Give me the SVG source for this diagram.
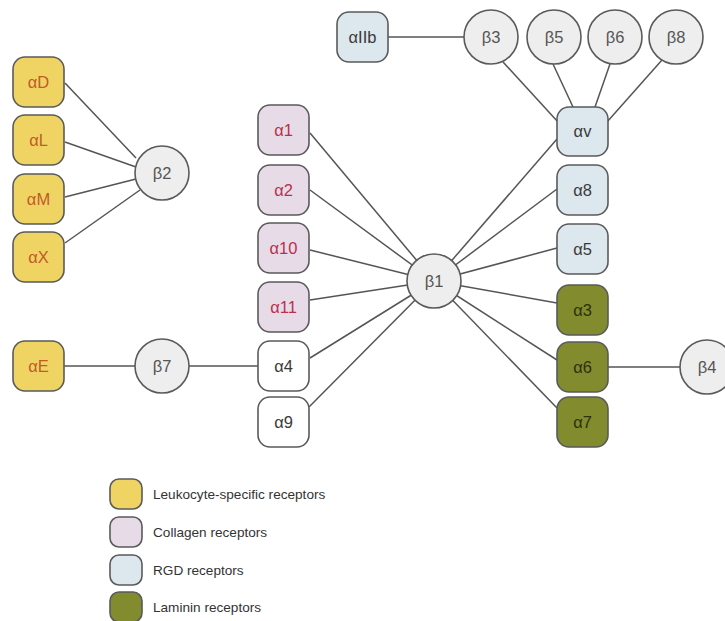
<svg xmlns="http://www.w3.org/2000/svg" width="725" height="621" viewBox="0 0 725 621">
<style>
.bg{fill:#ffffff}
.c line{stroke:#555;stroke-width:1.5;fill:none}
.box{stroke:#5a5a5a;stroke-width:1.6}
.circ{fill:#eeeeee;stroke:#5a5a5a;stroke-width:1.6}
.leu{fill:#efd464}
.col{fill:#e8dbe8}
.rgd{fill:#dde7ee}
.lam{fill:#828b2e}
.wht{fill:#ffffff}
text{font-family:"Liberation Sans",Arial,sans-serif;font-size:16.5px;text-anchor:middle;dominant-baseline:central}
.tl{fill:#c25a28}
.tc{fill:#b8304c}
.tr{fill:#3a3a3a}
.tm{fill:#2e3010}
.tw{fill:#3a3a3a}
.tb{fill:#555555}
.lg{font-size:13.6px;text-anchor:start;fill:#333}
</style>
<rect class="bg" width="725" height="621"/>
<g id="connectors" class="c">
<line x1="65" y1="83" x2="136" y2="158"/>
<line x1="65" y1="142" x2="136" y2="167"/>
<line x1="65" y1="197" x2="136" y2="179"/>
<line x1="65" y1="243" x2="140" y2="190"/>
<line x1="64" y1="366" x2="135" y2="366"/>
<line x1="189" y1="366" x2="258" y2="366"/>
<line x1="388" y1="37" x2="464" y2="37"/>
<line x1="503" y1="62" x2="558" y2="122"/>
<line x1="553" y1="64" x2="573" y2="107"/>
<line x1="610" y1="64" x2="595" y2="107"/>
<line x1="662" y1="60" x2="607" y2="122"/>
<line x1="607" y1="367" x2="680" y2="367"/>
<line x1="310" y1="133" x2="434" y2="281"/>
<line x1="310" y1="190" x2="434" y2="281"/>
<line x1="310" y1="250" x2="434" y2="281"/>
<line x1="310" y1="300" x2="434" y2="281"/>
<line x1="310" y1="358" x2="434" y2="281"/>
<line x1="309" y1="407" x2="434" y2="281"/>
<line x1="557" y1="139" x2="434" y2="281"/>
<line x1="557" y1="189" x2="434" y2="281"/>
<line x1="557" y1="248" x2="434" y2="281"/>
<line x1="557" y1="303" x2="434" y2="281"/>
<line x1="557" y1="360" x2="434" y2="281"/>
<line x1="557" y1="408" x2="434" y2="281"/>
</g>
<g id="aD"><rect class="box leu" x="13" y="57" width="51" height="50" rx="12"/><text class="tl" x="38.5" y="82">αD</text></g>
<g id="aL"><rect class="box leu" x="13" y="115" width="51" height="50" rx="12"/><text class="tl" x="38.5" y="140">αL</text></g>
<g id="aM"><rect class="box leu" x="13" y="174" width="51" height="50" rx="12"/><text class="tl" x="38.5" y="199">αM</text></g>
<g id="aX"><rect class="box leu" x="13" y="232" width="51" height="50" rx="12"/><text class="tl" x="38.5" y="257">αX</text></g>
<g id="aE"><rect class="box leu" x="13" y="341" width="51" height="50" rx="12"/><text class="tl" x="38.5" y="366">αE</text></g>
<g id="b2"><circle class="circ" cx="162" cy="173" r="27"/><text class="tb" x="162" y="173">β2</text></g>
<g id="b7"><circle class="circ" cx="162" cy="366" r="27"/><text class="tb" x="162" y="366">β7</text></g>
<g id="a1"><rect class="box col" x="258" y="105" width="51" height="50" rx="12"/><text class="tc" x="283.5" y="130">α1</text></g>
<g id="a2"><rect class="box col" x="258" y="165" width="51" height="50" rx="12"/><text class="tc" x="283.5" y="190">α2</text></g>
<g id="a10"><rect class="box col" x="258" y="223" width="51" height="50" rx="12"/><text class="tc" x="283.5" y="248">α10</text></g>
<g id="a11"><rect class="box col" x="258" y="282" width="51" height="50" rx="12"/><text class="tc" x="283.5" y="307">α11</text></g>
<g id="a4"><rect class="box wht" x="258" y="341" width="51" height="50" rx="12"/><text class="tw" x="283.5" y="366">α4</text></g>
<g id="a9"><rect class="box wht" x="258" y="397" width="51" height="50" rx="12"/><text class="tw" x="283.5" y="422">α9</text></g>
<g id="b1"><circle class="circ" cx="434" cy="281" r="27"/><text class="tb" x="434" y="281">β1</text></g>
<g id="aIIb"><rect class="box rgd" x="337" y="12" width="51" height="50" rx="12"/><text class="tr" x="362.5" y="37">αIIb</text></g>
<g id="b3"><circle class="circ" cx="491" cy="37" r="27"/><text class="tb" x="491" y="37">β3</text></g>
<g id="b5"><circle class="circ" cx="554" cy="37" r="27"/><text class="tb" x="554" y="37">β5</text></g>
<g id="b6"><circle class="circ" cx="615" cy="37" r="27"/><text class="tb" x="615" y="37">β6</text></g>
<g id="b8"><circle class="circ" cx="676" cy="37" r="27"/><text class="tb" x="676" y="37">β8</text></g>
<g id="av"><rect class="box rgd" x="557" y="107" width="51" height="49" rx="12"/><text class="tr" x="582.5" y="131">αv</text></g>
<g id="a8"><rect class="box rgd" x="557" y="165" width="51" height="50" rx="12"/><text class="tr" x="582.5" y="190">α8</text></g>
<g id="a5"><rect class="box rgd" x="557" y="224" width="51" height="50" rx="12"/><text class="tr" x="582.5" y="249">α5</text></g>
<g id="a3"><rect class="box lam" x="557" y="285" width="51" height="50" rx="12"/><text class="tm" x="582.5" y="310">α3</text></g>
<g id="a6"><rect class="box lam" x="557" y="342" width="51" height="50" rx="12"/><text class="tm" x="582.5" y="367">α6</text></g>
<g id="a7"><rect class="box lam" x="557" y="397" width="51" height="50" rx="12"/><text class="tm" x="582.5" y="422">α7</text></g>
<g id="b4"><circle class="circ" cx="707" cy="367" r="27"/><text class="tb" x="707" y="367">β4</text></g>
<g id="legend">
<rect class="box leu" x="110" y="479" width="32" height="30" rx="9"/><text class="lg" x="153" y="494">Leukocyte-specific receptors</text>
<rect class="box col" x="110" y="517" width="32" height="30" rx="9"/><text class="lg" x="153" y="532">Collagen receptors</text>
<rect class="box rgd" x="110" y="555" width="32" height="30" rx="9"/><text class="lg" x="153" y="570">RGD receptors</text>
<rect class="box lam" x="110" y="592" width="32" height="30" rx="9"/><text class="lg" x="153" y="607">Laminin receptors</text>
</g>
</svg>
